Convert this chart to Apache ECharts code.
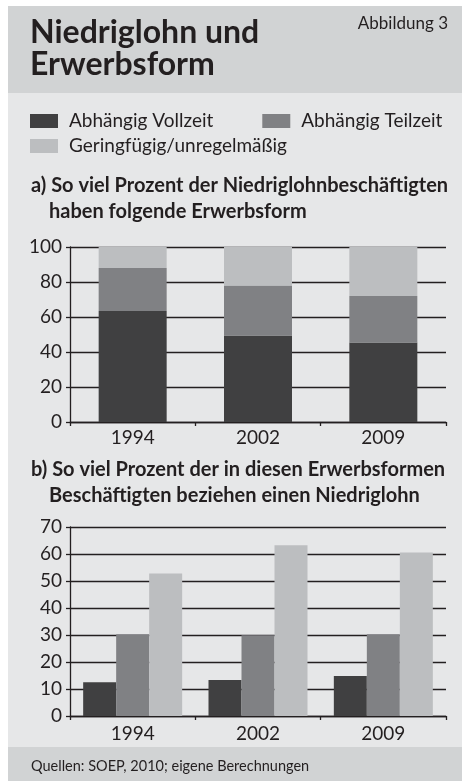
<!DOCTYPE html>
<html>
<head>
<meta charset="utf-8">
<script src="https://cdn.jsdelivr.net/npm/echarts@6/dist/echarts.min.js"></script>
<style>
  html, body { margin: 0; padding: 0; background: #fff; }
  #chart { width: 462px; height: 781px; }
</style>
</head>
<body>
<div id="chart"></div>
<script>
// Kategorien
var years = ['1994', '2002', '2009'];
// a) Anteile an den Niedriglohnbeschäftigten (Prozent)
var shareVollzeit = [63.5, 49.5, 45.5];
var shareTeilzeit = [24.5, 28.5, 26.5];
var shareGering = [12, 22, 28];
// b) Niedriglohnquote je Erwerbsform (Prozent)
var quoteVollzeit = [12.5, 13.3, 14.8];
var quoteTeilzeit = [30.3, 29.9, 30.3];
var quoteGering = [52.8, 63.2, 60.6];
// Achsen
var axisA = { min: 0, max: 100, interval: 20 };
var axisB = { min: 0, max: 70, interval: 10 };

var names = ['Abhängig Vollzeit', 'Abhängig Teilzeit', 'Geringfügig/unregelmäßig'];
var colors = ['#404041', '#808184', '#bcbec0'];
var ink = '#231f20';
var font = 'Lato';

function txt(text, x, y, size, weight, align) {
  return {
    type: 'text',
    silent: true,
    style: {
      text: text, x: x, y: y,
      font: (weight || 'normal') + ' ' + size + 'px ' + font,
      fill: ink,
      align: align || 'left', textAlign: align || 'left',
      verticalAlign: 'middle', textVerticalAlign: 'middle'
    }
  };
}

function yAxisOf(a, idx) {
  return {
    type: 'value', gridIndex: idx, min: a.min, max: a.max, interval: a.interval,
    axisLine: { show: true, lineStyle: { color: ink, width: 1.3 } },
    axisTick: { show: true, length: 4, lineStyle: { color: ink, width: 1.3 } },
    splitLine: { show: true, lineStyle: { color: ink, width: 1.3 } },
    axisLabel: { color: ink, fontSize: 19, fontFamily: font, margin: 8 }
  };
}

function xAxisOf(idx, margin) {
  return {
    type: 'category', gridIndex: idx, data: years,
    axisLine: { lineStyle: { color: ink, width: 1.3 } },
    axisTick: { show: true, length: 4, lineStyle: { color: ink, width: 1.3 } },
    axisLabel: { color: ink, fontSize: 19, fontFamily: font, margin: margin }
  };
}

// Legende in zwei Zeilen
function legendOf(data, top, gap) {
  return {
    data: data, left: 30, top: top, padding: 0, icon: 'rect', selectedMode: false,
    itemWidth: 28, itemHeight: 14, itemGap: gap,
    textStyle: { color: ink, fontSize: 19, fontFamily: font, padding: [0, 0, 0, 6] }
  };
}

var chart = echarts.init(document.getElementById('chart'));
chart.setOption({
  animation: false,
  graphic: [
    { type: 'rect', silent: true, z: -10, shape: { x: 8, y: 6, width: 454, height: 775 }, style: { fill: '#e6e7e8' } },
    { type: 'rect', silent: true, z: -9, shape: { x: 8, y: 6, width: 454, height: 87 }, style: { fill: '#d1d3d4' } },
    { type: 'rect', silent: true, z: -9, shape: { x: 8, y: 747, width: 454, height: 34 }, style: { fill: '#d1d3d4' } },
    txt('Niedriglohn und', 30, 33, 32, 'bold'),
    txt('Erwerbsform', 30, 65, 32, 'bold'),
    txt('Abbildung 3', 448, 24, 17, 'normal', 'right'),
    txt('a) So viel Prozent der Niedriglohnbeschäftigten', 31, 186, 20, 'bold'),
    txt('haben folgende Erwerbsform', 49, 212, 20, 'bold'),
    txt('b) So viel Prozent der in diesen Erwerbsformen', 31, 470, 20, 'bold'),
    txt('Beschäftigten beziehen einen Niedriglohn', 49, 496, 20, 'bold'),
    txt('Quellen: SOEP, 2010; eigene Berechnungen', 31, 766, 14.5, 'normal')
  ],
  legend: [
    legendOf(names.slice(0, 2), 111.5, 49),
    legendOf(names.slice(2), 136.5, 10)
  ],
  grid: [
    { left: 70, top: 247, width: 376, height: 175 },
    { left: 70, top: 527, width: 376, height: 189 }
  ],
  xAxis: [xAxisOf(0, 6), xAxisOf(1, 8)],
  yAxis: [yAxisOf(axisA, 0), yAxisOf(axisB, 1)],
  series: [
    { name: names[0], type: 'bar', stack: 'a', xAxisIndex: 0, yAxisIndex: 0, barWidth: 68, data: shareVollzeit, itemStyle: { color: colors[0] } },
    { name: names[1], type: 'bar', stack: 'a', xAxisIndex: 0, yAxisIndex: 0, barWidth: 68, data: shareTeilzeit, itemStyle: { color: colors[1] } },
    { name: names[2], type: 'bar', stack: 'a', xAxisIndex: 0, yAxisIndex: 0, barWidth: 68, data: shareGering, itemStyle: { color: colors[2] } },
    { name: names[0], type: 'bar', xAxisIndex: 1, yAxisIndex: 1, barWidth: 33, barGap: 0, data: quoteVollzeit, itemStyle: { color: colors[0] } },
    { name: names[1], type: 'bar', xAxisIndex: 1, yAxisIndex: 1, barWidth: 33, barGap: 0, data: quoteTeilzeit, itemStyle: { color: colors[1] } },
    { name: names[2], type: 'bar', xAxisIndex: 1, yAxisIndex: 1, barWidth: 33, barGap: 0, data: quoteGering, itemStyle: { color: colors[2] } }
  ]
});
</script>
</body>
</html>
